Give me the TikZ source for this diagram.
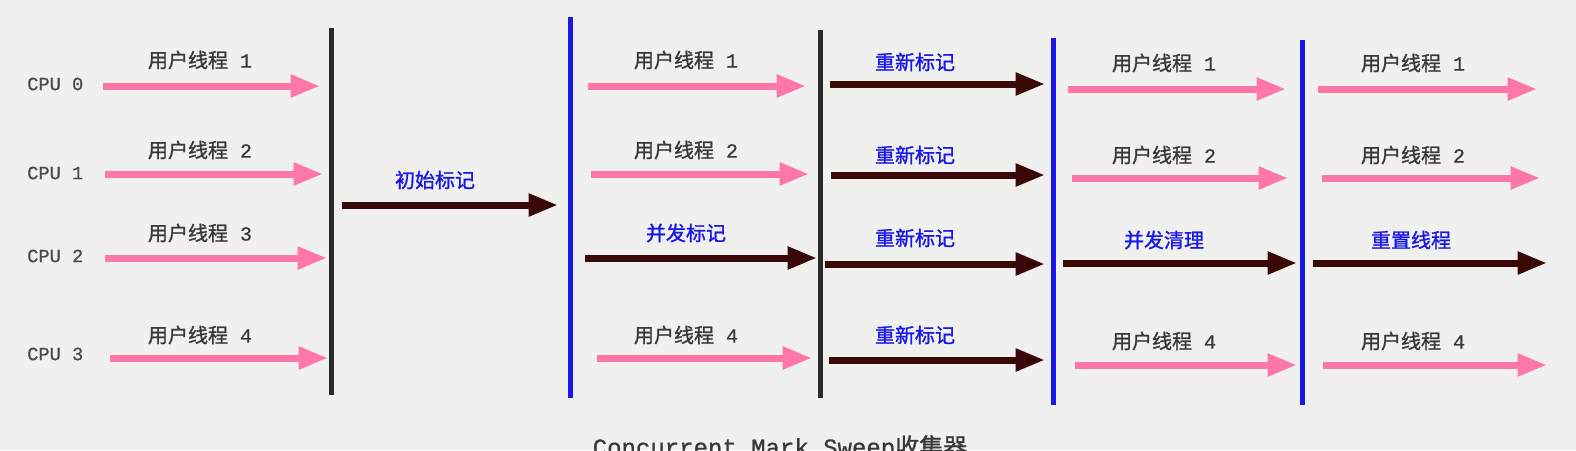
\documentclass[tikz,border=0pt]{standalone}
\usepackage{fontspec}
\usetikzlibrary{arrows.meta}
\newfontfamily\cjk[FakeBold=1.2]{Noto Sans CJK SC}
\newfontfamily\mono[FakeBold=0.8]{Liberation Mono}
\definecolor{bgc}{HTML}{F0F0EE}
\definecolor{pinkc}{HTML}{FF77A8}
\definecolor{darkc}{HTML}{3A0808}
\definecolor{bluec}{HTML}{1818E8}
\definecolor{graytxt}{HTML}{383838}
\definecolor{cputxt}{HTML}{4A4A4A}
\definecolor{blacklinec}{HTML}{2A2A2A}
\tikzset{
  user/.style={pinkc, line width=5.25pt, -{Triangle[length=22pt,width=16pt]}},
  gc/.style={darkc, line width=5.25pt, -{Triangle[length=22pt,width=16pt]}},
  ulabel/.style={text=graytxt, font=\cjk\fontsize{15}{18}\selectfont, inner sep=0pt},
  glabel/.style={text=bluec, font=\cjk\fontsize{15}{18}\selectfont, inner sep=0pt},
  cpulabel/.style={text=cputxt, font=\mono\fontsize{14}{16}\selectfont, inner sep=0pt, anchor=west},
  stw/.style={blacklinec, line width=3.75pt},
  conc/.style={bluec, line width=3.75pt},
}
\newcommand{\ut}[1]{用户线程\hspace{0.6em}{\mono #1}}
\begin{document}
\begin{tikzpicture}[x=0.75pt,y=-0.75pt]
\fill[bgc] (0,0) rectangle (1576,450);
\useasboundingbox (0,0) rectangle (1576,450);

% CPU labels
\node[cpulabel] (cpu0) at (27,84) {CPU 0};
\node[cpulabel] (cpu1) at (27,173) {CPU 1};
\node[cpulabel] (cpu2) at (27,256) {CPU 2};
\node[cpulabel] (cpu3) at (27,354) {CPU 3};

% vertical lines
\draw[stw] (331,28) coordinate (v1t) -- (331,395) coordinate (v1b);
\draw[conc] (570,17) coordinate (v2t) -- (570,398) coordinate (v2b);
\draw[stw] (820,30) coordinate (v3t) -- (820,398) coordinate (v3b);
\draw[conc] (1053,38) coordinate (v4t) -- (1053,405) coordinate (v4b);
\draw[conc] (1302,40) coordinate (v5t) -- (1302,405) coordinate (v5b);

% column 1
\coordinate (a1s) at (103,86); \coordinate (a1e) at (320,86);
\coordinate (a2s) at (105,174); \coordinate (a2e) at (323,174);
\coordinate (a3s) at (105,258); \coordinate (a3e) at (327,258);
\coordinate (a4s) at (110,358); \coordinate (a4e) at (328,358);
\draw[user] (a1s) -- (a1e);
\draw[user] (a2s) -- (a2e);
\draw[user] (a3s) -- (a3e);
\draw[user] (a4s) -- (a4e);
\node[ulabel] (l11) at (200,60) {\ut{1}};
\node[ulabel] (l12) at (200,150) {\ut{2}};
\node[ulabel] (l13) at (200,233) {\ut{3}};
\node[ulabel] (l14) at (200,335) {\ut{4}};

% initial mark
\coordinate (ims) at (342,205); \coordinate (ime) at (558,205);
\draw[gc] (ims) -- (ime);
\node[glabel] (im) at (435,180) {初始标记};

% column 2
\coordinate (b1s) at (588,86); \coordinate (b1e) at (806,86);
\coordinate (b2s) at (591,174); \coordinate (b2e) at (809,174);
\coordinate (b3s) at (585,258); \coordinate (b3e) at (817,258);
\coordinate (b4s) at (597,358); \coordinate (b4e) at (812,358);
\draw[user] (b1s) -- (b1e);
\draw[user] (b2s) -- (b2e);
\draw[gc] (b3s) -- (b3e);
\draw[user] (b4s) -- (b4e);
\node[ulabel] (l21) at (686,60) {\ut{1}};
\node[ulabel] (l22) at (686,150) {\ut{2}};
\node[glabel] (cm) at (686,233) {并发标记};
\node[ulabel] (l24) at (686,335) {\ut{4}};

% column 3 remark
\coordinate (c1s) at (830,84); \coordinate (c1e) at (1045,84);
\coordinate (c2s) at (831,175); \coordinate (c2e) at (1045,175);
\coordinate (c3s) at (825,264); \coordinate (c3e) at (1045,264);
\coordinate (c4s) at (829,360); \coordinate (c4e) at (1045,360);
\draw[gc] (c1s) -- (c1e);
\draw[gc] (c2s) -- (c2e);
\draw[gc] (c3s) -- (c3e);
\draw[gc] (c4s) -- (c4e);
\node[glabel] (r1) at (915,62) {重新标记};
\node[glabel] (r2) at (915,155) {重新标记};
\node[glabel] (r3) at (915,238) {重新标记};
\node[glabel] (r4) at (915,335) {重新标记};

% column 4
\coordinate (d1s) at (1068,89); \coordinate (d1e) at (1286,89);
\coordinate (d2s) at (1072,178); \coordinate (d2e) at (1288,178);
\coordinate (d3s) at (1063,263); \coordinate (d3e) at (1297,263);
\coordinate (d4s) at (1075,365); \coordinate (d4e) at (1297,365);
\draw[user] (d1s) -- (d1e);
\draw[user] (d2s) -- (d2e);
\draw[gc] (d3s) -- (d3e);
\draw[user] (d4s) -- (d4e);
\node[ulabel] (l41) at (1164,63) {\ut{1}};
\node[ulabel] (l42) at (1164,155) {\ut{2}};
\node[glabel] (cs) at (1164,240) {并发清理};
\node[ulabel] (l44) at (1164,341) {\ut{4}};

% column 5
\coordinate (e1s) at (1318,89); \coordinate (e1e) at (1537,89);
\coordinate (e2s) at (1322,178); \coordinate (e2e) at (1540,178);
\coordinate (e3s) at (1313,263); \coordinate (e3e) at (1547,263);
\coordinate (e4s) at (1323,365); \coordinate (e4e) at (1547,365);
\draw[user] (e1s) -- (e1e);
\draw[user] (e2s) -- (e2e);
\draw[gc] (e3s) -- (e3e);
\draw[user] (e4s) -- (e4e);
\node[ulabel] (l51) at (1413,63) {\ut{1}};
\node[ulabel] (l52) at (1413,155) {\ut{2}};
\node[glabel] (rt) at (1411,240) {重置线程};
\node[ulabel] (l54) at (1413,341) {\ut{4}};

% caption (cut off at the bottom edge, as in the reference)
\node[text=graytxt, inner sep=0pt, anchor=north] (cap) at (780,435) {{\mono\fontsize{18}{20}\selectfont Concurrent Mark Sweep}{\cjk\fontsize{18}{20}\selectfont 收集器}};
\end{tikzpicture}
\end{document}
